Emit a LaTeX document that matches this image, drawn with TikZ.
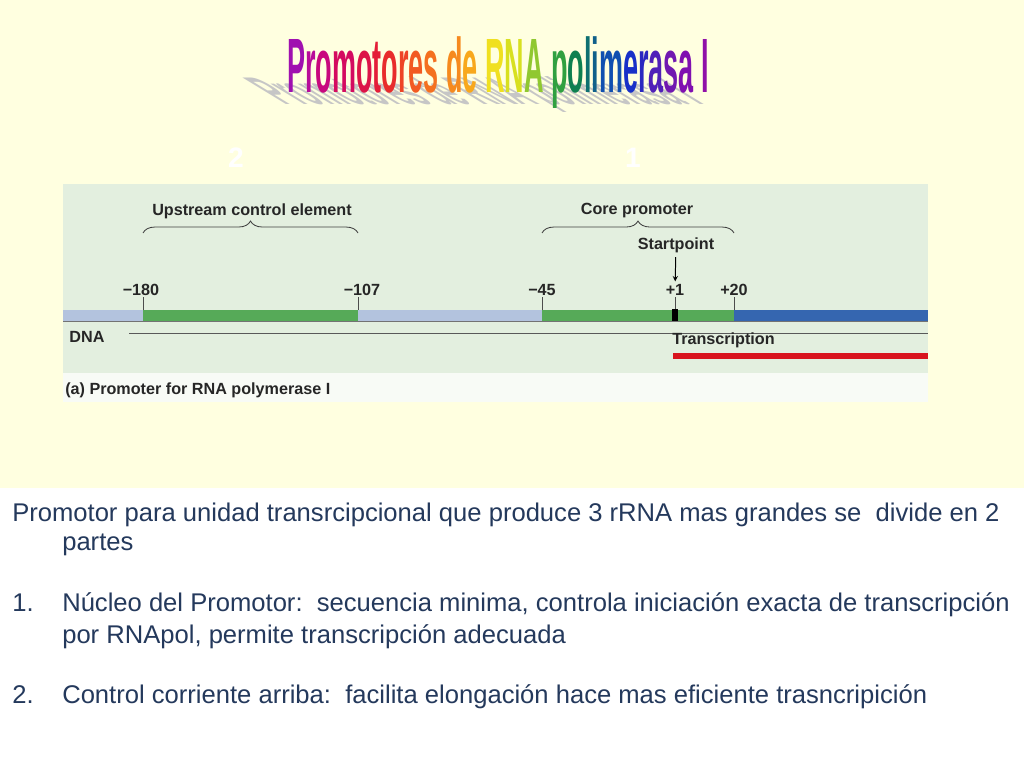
\documentclass[tikz,border=0pt]{standalone}
\usepackage{fontspec}
\setmainfont{Liberation Sans}
\usetikzlibrary{arrows, positioning, decorations.pathreplacing}
\frenchspacing

\definecolor{slideyellow}{HTML}{FFFFE0}
\definecolor{panelgreen}{HTML}{E3EFDF}
\definecolor{captionwhite}{HTML}{F8FBF6}
\definecolor{dnagrey}{HTML}{B3C3DE}
\definecolor{dnagreen}{HTML}{56AA58}
\definecolor{dnablue}{HTML}{3566B0}
\definecolor{rnared}{HTML}{D8141E}
\definecolor{bodytext}{HTML}{24395C}

\newcommand{\rbow}[2]{\textcolor[HTML]{#1}{#2}}

\tikzstyle{figtext} = [font=\fontsize{11.5}{13}\selectfont\bfseries, text=black!85, inner sep=0pt]
\tikzstyle{bignum} = [font=\fontsize{20}{22}\selectfont\bfseries, text=white, inner sep=0pt]
\tikzstyle{bodyline} = [anchor=base west, inner sep=0pt, text=bodytext, font=\fontsize{18.2}{22}\selectfont]
\tikzstyle{wordart} = [anchor=base west, inner sep=0pt, font=\fontsize{40}{44}\selectfont\bfseries, xscale=0.48, yscale=1.37]
\tikzstyle{curly} = [decorate, decoration={brace, amplitude=8.5pt}, line width=0.6pt, black!75]
\tikzstyle{tickline} = [line width=0.6pt, black!70]
\tikzstyle{arrow} = [line width=0.7pt,->,>=stealth]

\begin{document}
\begin{tikzpicture}[x=0.025cm, y=-0.025cm]
    \fill[slideyellow] (0,0) rectangle (1024,488);
    \fill[white] (0,488) rectangle (1024,768);
    \useasboundingbox (0,0) rectangle (1024,768);

    % title with its shadow
    \node (shadow) [wordart, text=gray!45, cm={1,0,-2.34,0.5,(0,0)}] at (284,105) {Promotores de RNA polimerasa I};
    \node (title) [wordart] at (287,93) {\rbow{A010B0}{P}\rbow{B80C9A}{r}\rbow{C8087E}{o}\rbow{D40A60}{m}\rbow{DC1448}{o}\rbow{E41E38}{t}\rbow{E82C2C}{o}\rbow{EE4426}{r}\rbow{F25A22}{e}\rbow{F47020}{s} \rbow{F68A1E}{d}\rbow{F8A81C}{e} \rbow{F0E020}{R}\rbow{D8E020}{N}\rbow{90C830}{A} \rbow{30A040}{p}\rbow{0E8050}{o}\rbow{0E7070}{l}\rbow{10608A}{i}\rbow{1050B0}{m}\rbow{1830C8}{e}\rbow{2A28C0}{r}\rbow{5020B8}{a}\rbow{7018B0}{s}\rbow{8010B0}{a} \rbow{9010A8}{I}};

    \node (two) [bignum] at (236,158) {2};
    \node (one) [bignum] at (633,158) {1};

    % figure panel
    \fill[panelgreen] (63,184) rectangle (928,373);
    \fill[captionwhite] (63,373) rectangle (928,402);

    % DNA bar
    \fill[dnagrey] (63,310) rectangle (143,321);
    \fill[dnagreen] (143,310) rectangle (358,321);
    \fill[dnagrey] (358,310) rectangle (542,321);
    \fill[dnagreen] (542,310) rectangle (734,321);
    \fill[dnablue] (734,310) rectangle (928,321);
    \fill[black] (672,309) rectangle (678,321);
    \draw[black!55, line width=0.6pt] (63,321) -- (928,321);

    % positions
    \node (m180) [figtext] at (141,290) {−180};
    \node (m107) [figtext] at (362,290) {−107};
    \node (m45) [figtext] at (542,290) {−45};
    \node (p1) [figtext] at (675,290) {+1};
    \node (p20) [figtext] at (734,290) {+20};
    \draw[tickline] (143,297) -- (143,310);
    \draw[tickline] (358,297) -- (358,310);
    \draw[tickline] (542,297) -- (542,310);
    \draw[tickline] (675,297) -- (675,309);
    \draw[tickline] (734,297) -- (734,310);

    % regions
    \coordinate (ucl) at (143,233);
    \coordinate (ucr) at (358,233);
    \coordinate (cpl) at (542,233);
    \coordinate (cpr) at (734,233);
    \draw[curly] (ucl) -- (ucr);
    \draw[curly] (cpl) -- (cpr);
    \node (upstream) [figtext] at (252,211) {Upstream control element};
    \node (core) [figtext] at (637,211) {Core promoter};
    \node (startpt) [figtext] at (676,245) {Startpoint};
    \draw[arrow, shorten <=3pt, shorten >=2pt] (startpt) -- (p1);

    % DNA and transcript
    \node (dna) [figtext] at (87,337) {DNA};
    \coordinate (dnal) at (129,333);
    \coordinate (dnar) at (928,333);
    \draw[black!65, line width=0.5pt] (dnal) -- (dnar);
    \node (transc) [figtext, anchor=west] at (672,340) {Transcription};
    \fill[rnared] (673,353) rectangle (928,359);
    \node (caption) [figtext, anchor=west] at (65,390) {(a) Promoter for RNA polymerase I};

    % slide text
    \node (line1) [bodyline] at (12,521) {Promotor para unidad transrcipcional que produce 3 rRNA mas grandes se \ divide en 2};
    \node (line2) [bodyline] at (62,550) {partes};
    \node (num1) [bodyline] at (12,611) {1.};
    \node (line3) [bodyline] at (62,611) {Núcleo del Promotor: \ secuencia minima, controla iniciación exacta de transcripción};
    \node (line4) [bodyline] at (62,643) {por RNApol, permite transcripción adecuada};
    \node (num2) [bodyline] at (12,703) {2.};
    \node (line5) [bodyline] at (62,703) {Control corriente arriba: \ facilita elongación hace mas eficiente trasncripición};
\end{tikzpicture}
\end{document}
